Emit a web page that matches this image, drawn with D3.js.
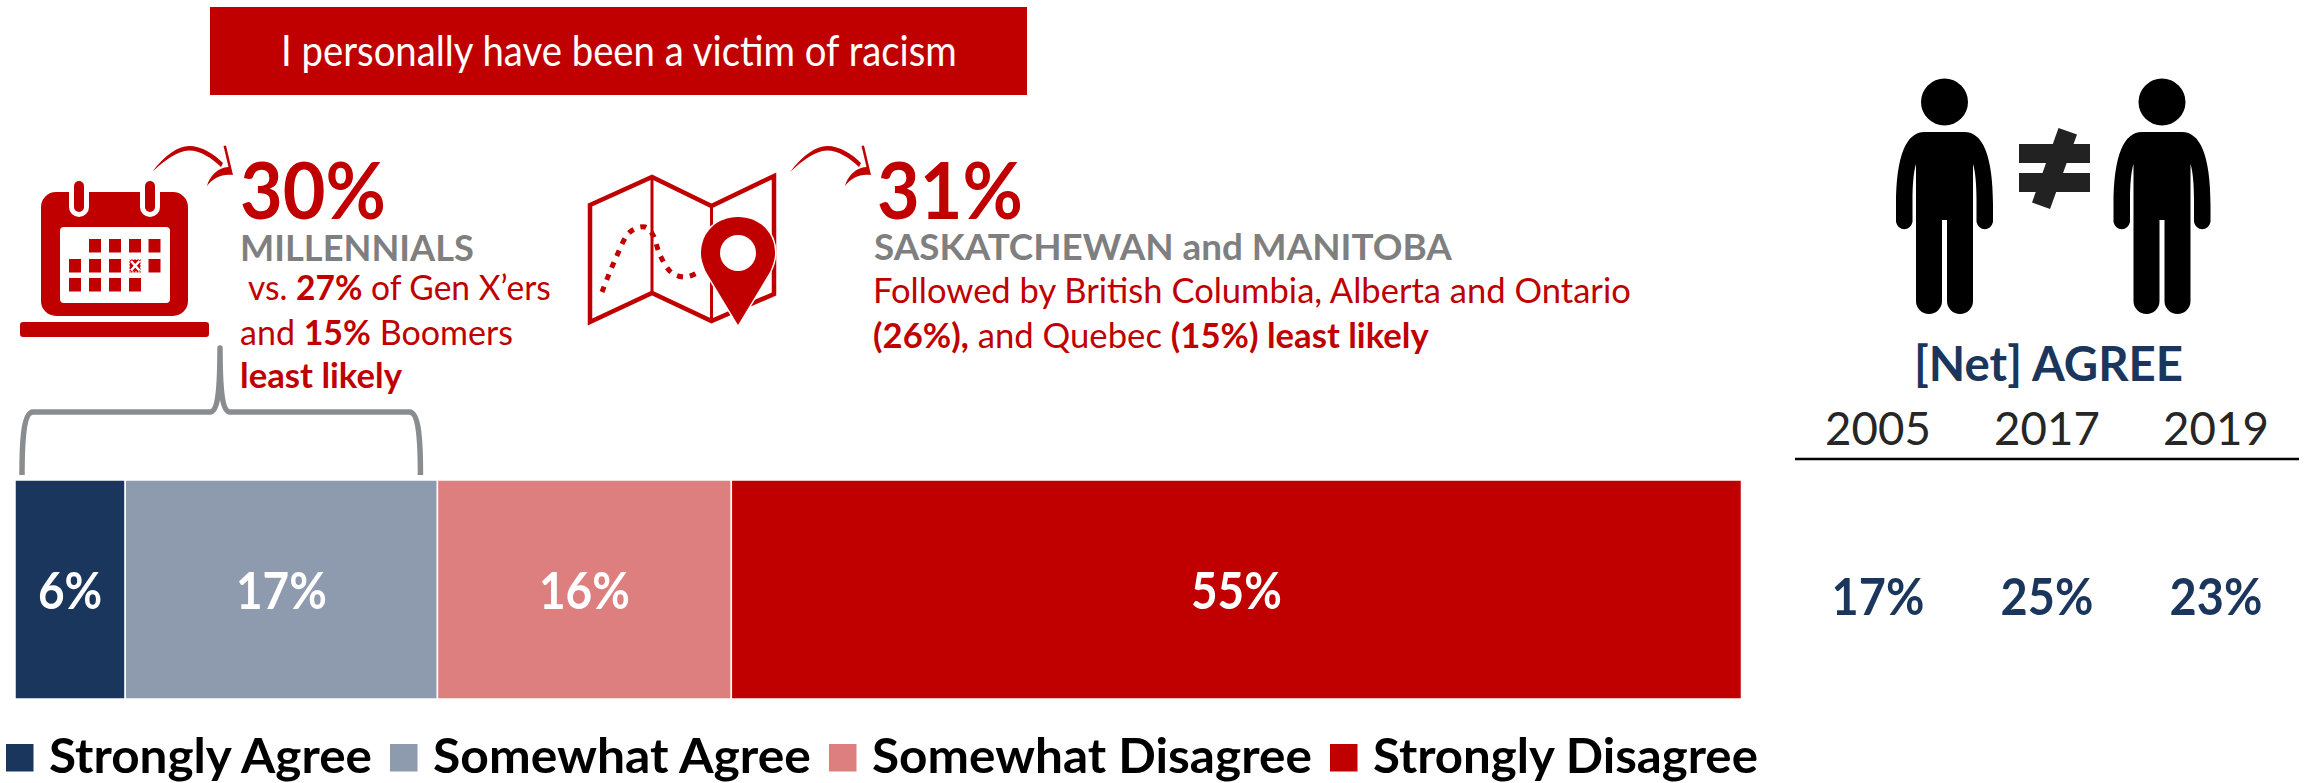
<!DOCTYPE html>
<html>
<head>
<meta charset="utf-8">
<script src="https://cdn.jsdelivr.net/npm/d3@7"></script>
<style>
  html, body { margin: 0; padding: 0; background: #fff; }
  svg { display: block; }
  text { font-family: Lato, Carlito, "Open Sans", sans-serif; }
</style>
</head>
<body>
<svg id="chart" width="2310" height="783"></svg>
<script>
// Survey responses, in stacking order
const categories = ["Strongly Agree", "Somewhat Agree", "Somewhat Disagree", "Strongly Disagree"];
const shares = [6, 17, 16, 55];
const palette = ["#1b365d", "#8e9aae", "#de7f7f", "#c00000"];

// Net agreement by survey year
const years = ["2005", "2017", "2019"];
const netAgree = [17, 25, 23];

const headline = "I personally have been a victim of racism";
const netTitle = "[Net] AGREE";

const RED = "#c00000", GREY = "#7f7f7f", NAVY = "#1b365d";
const svg = d3.select("#chart");

// Cumulative offsets for the stacked bar
const starts = d3.cumsum([0, ...shares.slice(0, -1)]);
const x = d3.scaleLinear().domain([0, d3.sum(shares)]).range([15, 1741.5]);
const barTop = 480, barBottom = 699;

// Places a line of mixed-weight text and squeezes it to span x0..x1
function textLine(spans, x0, x1, baseline, size, fill) {
  const t = svg.append("text").attr("font-size", size).attr("fill", fill);
  spans.forEach(([str, weight]) => {
    t.append("tspan").attr("font-weight", weight).attr("xml:space", "preserve").text(str);
  });
  const k = (x1 - x0) / t.node().getComputedTextLength();
  t.attr("transform", `translate(${x0},${baseline}) scale(${k},1)`);
  return t;
}

// Headline banner
svg.append("rect").attr("x", 210).attr("y", 7).attr("width", 817).attr("height", 88).attr("fill", RED);
textLine([[headline, 400]], 281, 957, 66, 42, "#fff");

// Curved pointer leading to a callout
function pointer(dx) {
  const g = svg.append("g").attr("transform", `translate(${dx},0)`).attr("fill", RED);
  g.append("path").attr("d",
    "M152,172 C165,155 178,146 189,146 C202,146 214,154 223,163 L221,167 C212,158 200,150.5 189,150.5 C178,150.5 165,160 152,172 Z");
  g.append("path").attr("d",
    "M223.5,146 L226,145.5 L233,175 C222,173.5 213,178 207,186 C209.5,176 218,167.5 228.5,167 Z");
}
pointer(0);
pointer(638);

// Calendar icon
const cal = svg.append("g").attr("fill", RED);
cal.append("rect").attr("x", 41).attr("y", 192).attr("width", 147).attr("height", 124).attr("rx", 15);
cal.append("rect").attr("x", 20).attr("y", 322).attr("width", 189).attr("height", 15).attr("rx", 3);
cal.append("rect").attr("x", 60).attr("y", 227).attr("width", 110).attr("height", 76).attr("rx", 4).attr("fill", "#fff");
[79, 150].forEach(cx => {
  cal.append("rect").attr("x", cx - 10).attr("y", 170).attr("width", 20).attr("height", 47).attr("rx", 10).attr("fill", "#fff");
  cal.append("rect").attr("x", cx - 5).attr("y", 181).attr("width", 10).attr("height", 31).attr("rx", 5);
});
const cellX = [69, 89, 109, 129, 148.5], cellY = [239, 259, 278];
const cellUsed = [[1, 2, 3, 4], [0, 1, 2, 3, 4], [0, 1, 2, 3]];
cellUsed.forEach((row, r) => row.forEach(c => {
  cal.append("rect").attr("x", cellX[c]).attr("y", cellY[r]).attr("width", 12).attr("height", 13.5);
}));
cal.append("path").attr("d", "M131,261 L139.500,270.500 M139.500,261 L131,270.500")
  .attr("stroke", "#fff").attr("stroke-width", 2.6);
cal.append("rect").attr("x", 129.500).attr("y", 259.500).attr("width", 11).attr("height", 12.500)
  .attr("fill", "none").attr("stroke", "#fff").attr("stroke-width", 1).attr("stroke-dasharray", "2 1");

// Generational callout
textLine([["30%", 700]], 240, 386, 219, 78, RED);
textLine([["MILLENNIALS", 700]], 240, 474, 261, 36, GREY);
textLine([["vs. ", 400], ["27%", 700], [" of Gen X’ers", 400]], 248, 551, 300, 35, RED);
textLine([["and ", 400], ["15%", 700], [" Boomers", 400]], 240, 513, 345, 35, RED);
textLine([["least likely", 700]], 240, 402, 388, 35, RED);

// Map icon with its location pin
const map = svg.append("g");
map.append("path")
  .attr("d", "M590,205 L652,177 L711.500,206 L774,176 L774,294 L711.500,321 L652,293 L590,322 Z")
  .attr("fill", "none").attr("stroke", RED).attr("stroke-width", 4.5).attr("stroke-linejoin", "miter");
map.append("path").attr("d", "M652,177 L652,293 M711.500,206 L711.500,321")
  .attr("fill", "none").attr("stroke", RED).attr("stroke-width", 3);
map.append("path")
  .attr("d", d3.line().curve(d3.curveCatmullRom)([[602, 292], [615, 260], [630, 232], [645, 227], [653, 235], [660, 255], [672, 273], [686, 277], [699, 272]]))
  .attr("fill", "none").attr("stroke", RED).attr("stroke-width", 5).attr("stroke-dasharray", "6 7");
map.append("path")
  .attr("d", "M738,325 L706,272 C702,263 701,258 701,253 C701,232 717,217 738,217 C759,217 775,232 775,253 C775,258 774,263 770,272 Z")
  .attr("fill", RED).attr("stroke", "#fff").attr("stroke-width", 3).attr("paint-order", "stroke");
map.append("ellipse").attr("cx", 738).attr("cy", 253).attr("rx", 18).attr("ry", 18).attr("fill", "#fff");

// Regional callout
textLine([["31%", 700]], 877, 1023, 219, 78, RED);
textLine([["SASKATCHEWAN and MANITOBA", 700]], 874, 1452, 260, 36, GREY);
textLine([["Followed by British Columbia, Alberta and Ontario", 400]], 873, 1631, 303, 35, RED);
textLine([["(26%),", 700], [" and Quebec ", 400], ["(15%) least likely", 700]], 873, 1429, 348, 35, RED);

// Brace grouping the two agree segments
const braceL = x(0) + 7, braceR = x(shares[0] + shares[1]) - 17, braceMid = 220;
svg.append("path")
  .attr("d", `M${braceL},475 C${braceL},445 ${braceL + 1},412 ${braceL + 11},412 L${braceMid - 10},412 C${braceMid - 3},412 ${braceMid},395 ${braceMid},348 C${braceMid},395 ${braceMid + 3},412 ${braceMid + 10},412 L${braceR - 11},412 C${braceR - 1},412 ${braceR},445 ${braceR},475`)
  .attr("fill", "none").attr("stroke", "#8a8d8f").attr("stroke-width", 5.5).attr("stroke-linejoin", "round");

// Stacked bar
svg.append("g").selectAll("rect").data(shares).join("rect")
  .attr("x", (d, i) => x(starts[i]))
  .attr("y", barTop)
  .attr("width", d => x(d) - x(0))
  .attr("height", barBottom - barTop)
  .attr("fill", (d, i) => palette[i])
  .attr("stroke", "#fff").attr("stroke-width", 1.5);

svg.append("g").selectAll("text").data(shares).join("text")
  .attr("transform", (d, i) => `translate(${x(starts[i] + d / 2)},609) scale(0.9,1)`)
  .attr("text-anchor", "middle").attr("font-size", 51).attr("font-weight", 700).attr("fill", "#fff")
  .text(d => d + "%");

// Legend
const legendSwatch = [6, 390, 829, 1330];
const legendText = [[49, 372], [433, 811], [872, 1312], [1373, 1758]];
categories.forEach((name, i) => {
  svg.append("rect").attr("x", legendSwatch[i]).attr("y", 744).attr("width", 27.500).attr("height", 27.500).attr("fill", palette[i]);
  textLine([[name, 700]], legendText[i][0], legendText[i][1], 773, 48, "#000");
});

// Two figures separated by a not-equal sign
function person(cx) {
  const g = svg.append("g").attr("transform", `translate(${cx},0)`).attr("fill", "#000");
  g.append("circle").attr("cx", 0).attr("cy", 102).attr("r", 23.500);
  g.append("path").attr("d",
    "M-20,132 L20,132 C38,132 48.500,155 48.500,205 L48.500,222 A8.500,9.500 0 0 1 32,222 L32,200 C32,185 31,172 28.500,164 L28.500,301 A13,13 0 0 1 2.500,301 L2.500,220 L-2.500,220 L-2.500,301 A13,13 0 0 1 -28.500,301 L-28.500,164 C-31,172 -32,185 -32,200 L-32,222 A8.500,9.500 0 0 1 -48.500,222 L-48.500,205 C-48.500,155 -38,132 -20,132 Z");
}
person(1944.5);
person(2162);
const neq = svg.append("g").attr("fill", "#222");
neq.append("rect").attr("x", 2019).attr("y", 144).attr("width", 71).attr("height", 19);
neq.append("rect").attr("x", 2019).attr("y", 173).attr("width", 71).attr("height", 19);
neq.append("path").attr("d", "M2058.500,128 L2077,134.500 L2050,209 L2032,202.500 Z");

// Net agreement table
const yearX = d3.scalePoint().domain(years).range([1878, 2216]);
textLine([[netTitle, 700]], 1914, 2183, 381, 48, NAVY);
svg.append("g").selectAll("text").data(years).join("text")
  .attr("transform", d => `translate(${yearX(d)},445) scale(0.97,1)`)
  .attr("text-anchor", "middle").attr("font-size", 47).attr("fill", "#262626")
  .text(d => d);
svg.append("line").attr("x1", 1795).attr("x2", 2299).attr("y1", 459).attr("y2", 459)
  .attr("stroke", "#000").attr("stroke-width", 2.500);
svg.append("g").selectAll("text").data(netAgree).join("text")
  .attr("transform", (d, i) => `translate(${yearX(years[i])},615) scale(0.92,1)`)
  .attr("text-anchor", "middle").attr("font-size", 51).attr("font-weight", 700).attr("fill", NAVY)
  .text(d => d + "%");
</script>
</body>
</html>
